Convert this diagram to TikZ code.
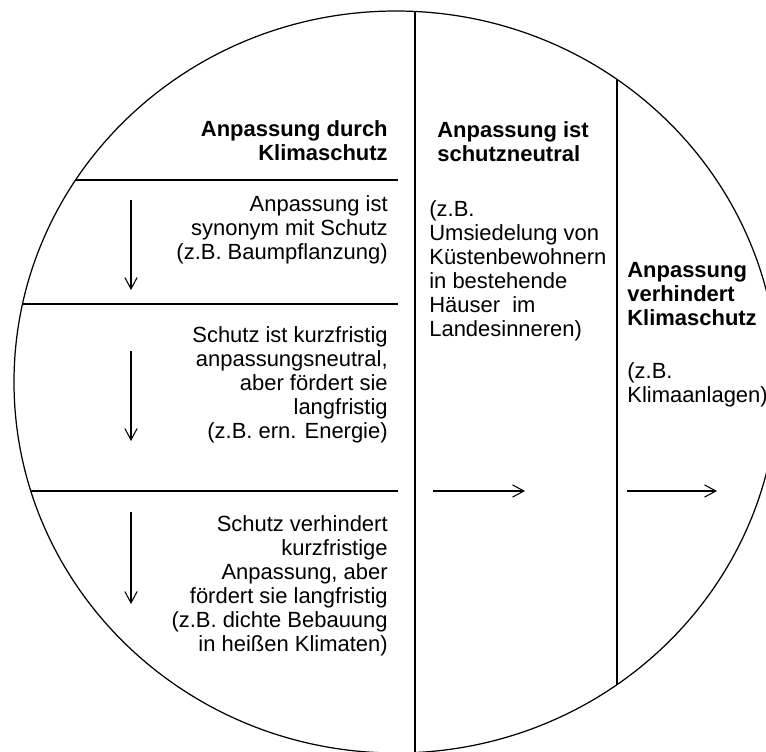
\documentclass[tikz,border=0pt]{standalone}
\usepackage{fontspec}
\setmainfont{Liberation Sans}
\usetikzlibrary{arrows.meta,positioning}

\begin{document}
\begin{tikzpicture}[
    x=0.02cm, y=-0.02cm,
    head/.style={font=\fontsize{12.5}{13.6}\selectfont\bfseries, inner sep=0pt},
    body/.style={font=\fontsize{12.5}{13.6}\selectfont, inner sep=0pt},
    rule/.style={line width=1.1pt},
    flow/.style={-{Straight Barb[length=6.5pt,width=7pt]}, line width=0.6pt}
]
\useasboundingbox (0,0) rectangle (766,751);
\clip (0,0) rectangle (766,751);

% Outline and dividers
\draw[line width=0.7pt] (396,382) ellipse [x radius=382, y radius=371];
\begin{scope}
  \clip (396,382) ellipse [x radius=382, y radius=371];
  \draw[rule] (415,0) -- (415,760);
  \draw[rule] (617,0) -- (617,760);
  \foreach \yy in {180,304,491}
    \draw[rule] (0,\yy) -- (398,\yy);
\end{scope}

% Left column (anchored at the last line)
\node[head,align=right,anchor=base east] (kschutz) at (388,160) {Anpassung durch\\Klimaschutz};
\node[body,align=right,anchor=base east] (synonym) at (388,259) {Anpassung ist\\synonym mit Schutz\\(z.B. Baumpflanzung)};
\node[body,align=right,anchor=base east] (kurz) at (388,438) {Schutz ist kurzfristig\\anpassungsneutral,\\aber fördert sie\\langfristig\\(z.B. ern. Energie)};
\node[body,align=right,anchor=base east] (verh) at (388,651) {Schutz verhindert\\kurzfristige\\Anpassung, aber\\fördert sie langfristig\\(z.B. dichte Bebauung\\in heißen Klimaten)};

% Middle column
\node[head,align=left,anchor=base west] (neutral) at (437,161) {Anpassung ist\\schutzneutral};
\node[body,align=left,anchor=base west] (umsied) at (429,336) {(z.B.\\Umsiedelung von\\Küstenbewohnern\\in bestehende\\Häuser\ \ im\\Landesinneren)};

% Right column
\node[head,align=left,anchor=base west] (hindert) at (627,325) {Anpassung\\verhindert\\Klimaschutz};
\node[body,align=left,anchor=base west] (anlagen) at (627,402) {(z.B.\\Klimaanlagen)};

% Arrows
\foreach \ya/\yb [count=\i] in {200/290,351/441,512/604} {
  \coordinate (down\i s) at (131,\ya);
  \coordinate (down\i e) at (131,\yb);
  \draw[flow] (down\i s) -- (down\i e);
}
\coordinate (mid s) at (433,491);
\coordinate (mid e) at (525,491);
\coordinate (right s) at (627,491);
\coordinate (right e) at (717,491);
\draw[flow] (mid s) -- (mid e);
\draw[flow] (right s) -- (right e);
\end{tikzpicture}
\end{document}
